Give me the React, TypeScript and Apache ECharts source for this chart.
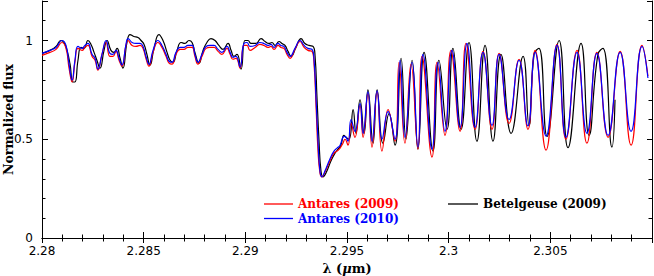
import React, { useEffect, useRef } from "react";
import * as echarts from "echarts";

// [wavelength (µm), normalized flux]
const antares2010: [number, number][] = [
  [2.28, 0.935], [2.28039, 0.95], [2.28069, 0.965], [2.28098, 1.0], [2.28118, 0.975],
  [2.28133, 0.88], [2.28148, 0.8], [2.28162, 0.9], [2.28177, 0.97], [2.28197, 0.96],
  [2.28211, 0.975], [2.28226, 0.985], [2.28246, 0.93], [2.28261, 0.91], [2.28275, 0.855],
  [2.28295, 0.93], [2.28315, 1.0], [2.28334, 0.935], [2.28349, 0.93], [2.28364, 0.95],
  [2.28379, 0.91], [2.28393, 0.876], [2.28413, 0.98], [2.28423, 1.01], [2.28443, 0.99],
  [2.28462, 0.985], [2.28482, 0.985], [2.28497, 0.97], [2.28511, 0.92], [2.28526, 0.88],
  [2.28546, 0.95], [2.2857, 1.0], [2.2859, 0.975], [2.2861, 0.93], [2.28625, 0.895],
  [2.28639, 0.89], [2.28659, 0.94], [2.28679, 0.965], [2.28698, 0.965], [2.28718, 0.975],
  [2.28738, 0.975], [2.28752, 0.93], [2.28767, 0.89], [2.28787, 0.93], [2.28807, 0.97],
  [2.28826, 0.975], [2.28846, 0.975], [2.28866, 0.955], [2.28885, 0.94], [2.2891, 0.97],
  [2.28925, 0.94], [2.28939, 0.915], [2.28954, 0.92], [2.28974, 0.866], [2.28993, 0.985],
  [2.29008, 0.99], [2.29023, 0.97], [2.29048, 0.975], [2.29072, 0.99], [2.29092, 0.985],
  [2.29111, 0.975], [2.29126, 0.98], [2.29141, 0.965], [2.29161, 0.985], [2.29175, 0.975],
  [2.2919, 0.97], [2.29205, 0.94], [2.2922, 0.92], [2.29244, 0.96], [2.29269, 1.0],
  [2.29289, 0.975], [2.29308, 0.96], [2.29328, 0.955], [2.29338, 0.9], [2.29348, 0.7],
  [2.29357, 0.5], [2.29367, 0.34], [2.29377, 0.31], [2.29392, 0.34], [2.29416, 0.4],
  [2.29436, 0.44], [2.29451, 0.455], [2.29466, 0.47], [2.2948, 0.51], [2.2949, 0.515],
  [2.29505, 0.49], [2.2952, 0.6], [2.29539, 0.54], [2.29564, 0.68], [2.29579, 0.53],
  [2.29603, 0.74], [2.29623, 0.49], [2.29648, 0.745], [2.29672, 0.5], [2.29702, 0.64],
  [2.29736, 0.5], [2.29761, 0.9], [2.29785, 0.51], [2.2982, 0.89], [2.29849, 0.46],
  [2.29874, 0.93], [2.29918, 0.45], [2.29948, 0.89], [2.29982, 0.54], [2.30016, 0.95],
  [2.30056, 0.56], [2.3009, 0.985], [2.3013, 0.56], [2.30169, 0.94], [2.30213, 0.57],
  [2.30248, 0.93], [2.30297, 0.6], [2.30346, 0.9], [2.3039, 0.567], [2.30425, 0.94],
  [2.30479, 0.516], [2.30533, 0.977], [2.30577, 0.51], [2.30631, 0.94], [2.3068, 0.53],
  [2.30729, 0.935], [2.30784, 0.52], [2.30843, 0.94], [2.30897, 0.54], [2.30951, 0.97],
  [2.3098, 0.81],
];

const antares2009: [number, number][] = [
  [2.28, 0.925], [2.28039, 0.94], [2.28069, 0.955], [2.28098, 0.99], [2.28118, 0.96],
  [2.28133, 0.86], [2.28148, 0.79], [2.28162, 0.89], [2.28177, 0.96], [2.28197, 0.95],
  [2.28211, 0.965], [2.28226, 0.975], [2.28246, 0.92], [2.28261, 0.9], [2.28275, 0.85],
  [2.28295, 0.93], [2.28315, 0.99], [2.28334, 0.92], [2.28349, 0.92], [2.28364, 0.945],
  [2.28379, 0.9], [2.28393, 0.87], [2.28413, 0.975], [2.28423, 1.0], [2.28443, 0.975],
  [2.28462, 0.97], [2.28482, 0.975], [2.28497, 0.96], [2.28511, 0.91], [2.28526, 0.87],
  [2.28546, 0.94], [2.2857, 0.99], [2.2859, 0.965], [2.2861, 0.92], [2.28625, 0.885],
  [2.28639, 0.88], [2.28659, 0.93], [2.28679, 0.955], [2.28698, 0.955], [2.28718, 0.965],
  [2.28738, 0.965], [2.28752, 0.92], [2.28767, 0.88], [2.28787, 0.92], [2.28807, 0.96],
  [2.28826, 0.965], [2.28846, 0.965], [2.28866, 0.945], [2.28885, 0.93], [2.2891, 0.96],
  [2.28925, 0.93], [2.28939, 0.905], [2.28954, 0.91], [2.28974, 0.86], [2.28993, 0.975],
  [2.29008, 0.975], [2.29023, 0.95], [2.29048, 0.965], [2.29072, 0.98], [2.29092, 0.975],
  [2.29111, 0.965], [2.29126, 0.97], [2.29141, 0.955], [2.29161, 0.975], [2.29175, 0.965],
  [2.2919, 0.96], [2.29205, 0.93], [2.2922, 0.91], [2.29244, 0.955], [2.29269, 0.995],
  [2.29289, 0.965], [2.29308, 0.95], [2.29328, 0.945], [2.29338, 0.88], [2.29348, 0.66],
  [2.29357, 0.45], [2.29367, 0.33], [2.29377, 0.31], [2.29392, 0.335], [2.29416, 0.39],
  [2.29436, 0.43], [2.29451, 0.44], [2.29466, 0.455], [2.2948, 0.48], [2.2949, 0.5],
  [2.29505, 0.47], [2.2952, 0.58], [2.29539, 0.51], [2.29564, 0.67], [2.29579, 0.51],
  [2.29603, 0.73], [2.29623, 0.46], [2.29648, 0.74], [2.29672, 0.44], [2.29702, 0.65],
  [2.29736, 0.49], [2.29756, 0.89], [2.29785, 0.48], [2.29815, 0.88], [2.29849, 0.45],
  [2.29869, 0.92], [2.29918, 0.41], [2.29943, 0.89], [2.29982, 0.52], [2.30011, 0.95],
  [2.30056, 0.54], [2.30085, 0.985], [2.3013, 0.55], [2.30169, 0.945], [2.30213, 0.55],
  [2.30248, 0.935], [2.30297, 0.58], [2.30346, 0.905], [2.3039, 0.55], [2.30425, 0.95],
  [2.30479, 0.445], [2.30533, 0.98], [2.30577, 0.5], [2.30631, 0.95], [2.3068, 0.48],
  [2.30729, 0.94], [2.30784, 0.51], [2.30843, 0.945], [2.30897, 0.47], [2.30951, 0.975],
  [2.3098, 0.82],
];

const betelgeuse2009: [number, number][] = [
  [2.28, 0.935], [2.28039, 0.95], [2.28069, 0.97], [2.28093, 1.0], [2.28108, 0.99],
  [2.28123, 0.95], [2.28138, 0.88], [2.28152, 0.79], [2.28162, 0.79], [2.28177, 0.9],
  [2.28192, 0.965], [2.28207, 0.96], [2.28226, 1.0], [2.28241, 0.98], [2.28256, 0.94],
  [2.2827, 0.9], [2.28285, 0.86], [2.28305, 0.95], [2.2832, 1.0], [2.28339, 0.95],
  [2.28354, 0.94], [2.28369, 0.96], [2.28384, 0.91], [2.28398, 0.86], [2.28418, 0.99],
  [2.28433, 1.03], [2.28452, 1.02], [2.28472, 1.015], [2.28487, 1.0], [2.28502, 0.98],
  [2.28516, 0.93], [2.28531, 0.875], [2.28551, 0.96], [2.28575, 1.03], [2.28595, 1.0],
  [2.28615, 0.94], [2.2863, 0.9], [2.28644, 0.89], [2.28664, 0.95], [2.28684, 0.99],
  [2.28703, 0.985], [2.28723, 1.0], [2.28738, 0.99], [2.28752, 0.94], [2.28772, 0.885],
  [2.28792, 0.95], [2.28811, 0.99], [2.28831, 1.01], [2.28851, 1.0], [2.2887, 0.975],
  [2.2889, 0.955], [2.28915, 0.985], [2.2893, 0.95], [2.28944, 0.92], [2.28959, 0.93],
  [2.28979, 0.855], [2.28998, 1.0], [2.29013, 1.0], [2.29028, 0.985], [2.29052, 0.985],
  [2.29077, 1.01], [2.29097, 0.995], [2.29116, 0.985], [2.29131, 0.99], [2.29146, 0.975],
  [2.29166, 0.995], [2.2918, 0.985], [2.29195, 0.975], [2.2921, 0.945], [2.29225, 0.92],
  [2.29249, 0.965], [2.29274, 1.01], [2.29293, 0.985], [2.29313, 0.975], [2.29333, 0.97],
  [2.29343, 0.92], [2.29352, 0.72], [2.29362, 0.5], [2.29372, 0.34], [2.29382, 0.31],
  [2.29397, 0.33], [2.29421, 0.39], [2.29441, 0.43], [2.29456, 0.45], [2.2947, 0.47],
  [2.29485, 0.52], [2.29495, 0.51], [2.2951, 0.5], [2.2953, 0.65], [2.29544, 0.53],
  [2.29564, 0.7], [2.29584, 0.53], [2.29603, 0.75], [2.29628, 0.48], [2.29648, 0.75],
  [2.29677, 0.48], [2.29707, 0.63], [2.29736, 0.47], [2.29766, 0.91], [2.2979, 0.5],
  [2.2982, 0.9], [2.29849, 0.45], [2.29879, 0.94], [2.29923, 0.44], [2.29952, 0.9],
  [2.29992, 0.55], [2.30021, 0.96], [2.30061, 0.55], [2.301, 0.99], [2.30139, 0.49],
  [2.30179, 0.975], [2.30218, 0.49], [2.30257, 0.93], [2.30307, 0.53], [2.30366, 0.92],
  [2.30395, 0.57], [2.3042, 0.93], [2.30444, 0.96], [2.30484, 0.515], [2.30543, 1.0],
  [2.30587, 0.457], [2.30651, 0.985], [2.3069, 0.52], [2.30734, 0.93], [2.30759, 0.96],
  [2.30803, 0.46], [2.30818, 0.7],
];

const seriesNames = ["Antares (2009)", "Antares (2010)", "Betelgeuse (2009)"];
const seriesColors = ["#ff0000", "#0000ff", "#000000"];

export default function App() {
  const ref = useRef<HTMLDivElement>(null);
  useEffect(() => {
    if (!ref.current) return;
    const chart = echarts.init(ref.current, null, { renderer: "svg" });
    const axisLine = { show: true, lineStyle: { color: "#000", width: 1 } };
    const tickFont = { fontFamily: "DejaVu Sans", fontSize: 12, color: "#000" };
    const fmtX = (v: number) => (v > 2.3085 ? "" : String(parseFloat(v.toFixed(3))));
    const fmtY = (v: number) => (v > 1.05 ? "" : String(parseFloat(v.toFixed(2))));
    chart.setOption({
      animation: false,
      grid: { left: 42, right: 2, top: 1, bottom: 38, containLabel: false, outerBoundsMode: "none" },
      legend: [
        {
          data: [
            { name: seriesNames[0], textStyle: { color: seriesColors[0] } },
            { name: seriesNames[1], textStyle: { color: seriesColors[1] } },
          ],
          orient: "vertical",
          left: 264,
          top: 197,
          icon: "rect",
          itemWidth: 29,
          itemHeight: 1.3,
          itemGap: 0.5,
          padding: 0,
          selectedMode: false,
          textStyle: { fontFamily: "DejaVu Serif", fontWeight: "bold", fontSize: 12, lineHeight: 14 },
        },
        {
          data: [{ name: seriesNames[2], textStyle: { color: seriesColors[2] } }],
          orient: "vertical",
          left: 448,
          top: 197,
          icon: "rect",
          itemWidth: 30,
          itemHeight: 1.3,
          padding: 0,
          selectedMode: false,
          textStyle: { fontFamily: "DejaVu Serif", fontWeight: "bold", fontSize: 12, lineHeight: 14 },
        },
      ],
      xAxis: [
        {
          type: "value", position: "bottom", min: 2.28, max: 2.31, interval: 0.005,
          axisLine, splitLine: { show: false },
          axisTick: { show: true, inside: true, length: 6, lineStyle: { color: "#000" } },
          minorTick: { show: true, splitNumber: 5, length: 3.5, lineStyle: { color: "#000" } },
          axisLabel: { ...tickFont, margin: 7, formatter: fmtX },
          name: "{n|λ (}{i|μ}{n|m)}",
          nameLocation: "middle",
          nameGap: 23,
          nameTextStyle: {
            rich: {
              n: { fontFamily: "DejaVu Serif", fontSize: 13, fontWeight: "bold", color: "#000" },
              i: { fontFamily: "DejaVu Serif", fontSize: 13, fontWeight: "bold", fontStyle: "italic", color: "#000" },
            },
          },
        },
        {
          type: "value", position: "top", min: 2.28, max: 2.31, interval: 0.005,
          axisLine, splitLine: { show: false },
          axisTick: { show: true, inside: true, length: 5, lineStyle: { color: "#000" } },
          minorTick: { show: true, splitNumber: 5, length: 3.5, lineStyle: { color: "#000" } },
          axisLabel: { show: false },
        },
      ],
      yAxis: [
        {
          type: "value", position: "left", min: 0, max: 1.2, interval: 0.5,
          axisLine, splitLine: { show: false },
          axisTick: { show: true, inside: true, length: 6, lineStyle: { color: "#000" } },
          axisLabel: { ...tickFont, margin: 9, formatter: fmtY },
          name: "Normalized flux",
          nameLocation: "middle",
          nameGap: 27,
          nameMoveOverlap: false,
          nameTextStyle: { fontFamily: "DejaVu Serif", fontWeight: "bold", fontSize: 12.5, color: "#000" },
        },
        {
          type: "value", position: "left", min: 0, max: 1.2, interval: 0.1,
          axisLine: { show: false }, splitLine: { show: false },
          axisTick: { show: true, inside: true, length: 3.5, lineStyle: { color: "#000" } },
          axisLabel: { show: false },
        },
        {
          type: "value", position: "right", min: 0, max: 1.2, interval: 0.5,
          axisLine, splitLine: { show: false },
          axisTick: { show: true, inside: true, length: 5, lineStyle: { color: "#000" } },
          axisLabel: { show: false },
        },
        {
          type: "value", position: "right", min: 0, max: 1.2, interval: 0.1,
          axisLine: { show: false }, splitLine: { show: false },
          axisTick: { show: true, inside: true, length: 3.5, lineStyle: { color: "#000" } },
          axisLabel: { show: false },
        },
      ],
      series: [
        {
          name: seriesNames[2], type: "line", data: betelgeuse2009, showSymbol: false, symbol: "none",
          smooth: 0.5, lineStyle: { color: seriesColors[2], width: 1.2 }, itemStyle: { color: seriesColors[2] },
        },
        {
          name: seriesNames[0], type: "line", data: antares2009, showSymbol: false, symbol: "none",
          smooth: 0.5, lineStyle: { color: seriesColors[0], width: 1.2 }, itemStyle: { color: seriesColors[0] },
        },
        {
          name: seriesNames[1], type: "line", data: antares2010, showSymbol: false, symbol: "none",
          smooth: 0.5, lineStyle: { color: seriesColors[1], width: 1.2 }, itemStyle: { color: seriesColors[1] },
        },
      ],
    });
    return () => chart.dispose();
  }, []);
  return (
    <div
      ref={ref}
      style={{ position: "fixed", left: 0, top: 0, width: 654, height: 276, background: "#fff" }}
    />
  );
}
